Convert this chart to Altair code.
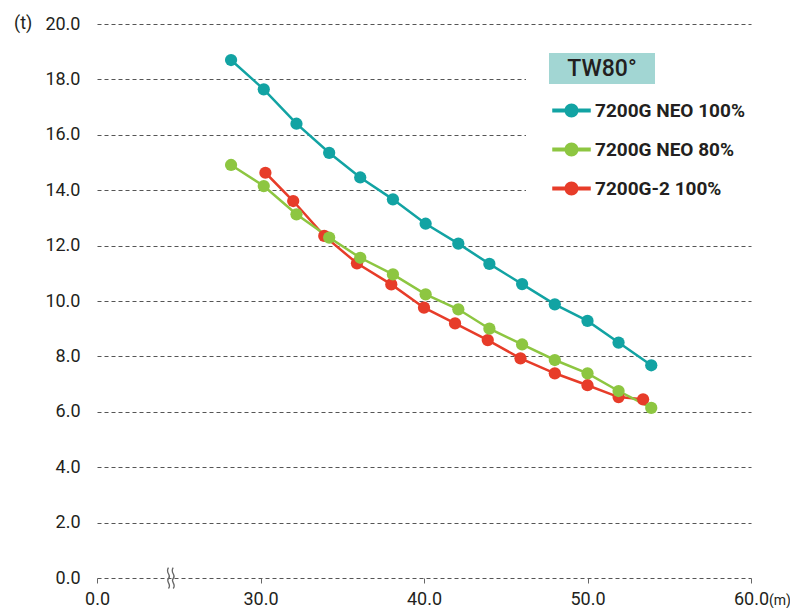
import altair as alt
import pandas as pd

series_names = ["7200G NEO 100%", "7200G NEO 80%", "7200G-2 100%"]
series_colors = ["#12a3a3", "#8dc641", "#e73c29"]

teal_x = [28.2, 30.2, 32.2, 34.2, 36.1, 38.1, 40.1, 42.1, 44.0, 46.0, 48.0, 50.0, 51.9, 53.9]
teal_y = [18.70, 17.64, 16.40, 15.35, 14.46, 13.67, 12.79, 12.07, 11.34, 10.61, 9.88, 9.28, 8.50, 7.68]

green_x = [28.2, 30.2, 32.2, 34.2, 36.1, 38.1, 40.1, 42.1, 44.0, 46.0, 48.0, 50.0, 51.9, 53.9]
green_y = [14.91, 14.15, 13.13, 12.29, 11.56, 10.96, 10.24, 9.70, 9.00, 8.43, 7.87, 7.39, 6.75, 6.14]

red_x = [30.3, 32.0, 33.9, 35.9, 38.0, 40.0, 41.9, 43.9, 45.9, 48.0, 50.0, 51.9, 53.4]
red_y = [14.63, 13.61, 12.35, 11.36, 10.60, 9.76, 9.19, 8.59, 7.93, 7.39, 6.96, 6.53, 6.45]

x_ticks = [20, 30, 40, 50, 60]
y_ticks = [0, 2, 4, 6, 8, 10, 12, 14, 16, 18, 20]

rows = []
for name, xs, ys in [(series_names[2], red_x, red_y),
                     (series_names[1], green_x, green_y),
                     (series_names[0], teal_x, teal_y)]:
    for i, (xv, yv) in enumerate(zip(xs, ys)):
        rows.append({"series": name, "x": xv, "y": yv, "i": i})
df = pd.DataFrame(rows)

W, H = 654, 554
FONT = "Roboto"
TXT = "#231f20"

xscale = alt.Scale(domain=[20, 60], nice=False)
yscale = alt.Scale(domain=[0, 20], nice=False)
cscale = alt.Scale(domain=series_names, range=series_colors)

x_axis = alt.Axis(values=x_ticks, grid=False, domain=False, ticks=True, tickSize=5,
                  tickColor="#666666", tickWidth=1, labelFontSize=18, labelFont=FONT,
                  labelColor=TXT, labelPadding=7, labelFlush=False, title=None,
                  labelExpr="datum.value == 20 ? '0.0' : format(datum.value, '.1f')")
y_axis = alt.Axis(values=y_ticks, format=".1f", grid=True, gridDash=[4, 3],
                  gridColor="#555555", gridWidth=1, domain=False, ticks=False, tickSize=0,
                  labelFontSize=18, labelFont=FONT, labelColor=TXT, labelPadding=17,
                  title=None)

legend_symbol = ("M-2.75,-0.3 H-0.97 V0.3 H-2.75 Z "
                 "M0.97,-0.3 H2.75 V0.3 H0.97 Z "
                 "M-1,0 A1,1 0 1,1 1,0 A1,1 0 1,1 -1,0 Z")

legend = alt.Legend(title=None, orient="none", legendX=465, legendY=77,
                    symbolType=legend_symbol, symbolSize=196, symbolStrokeWidth=0,
                    symbolOpacity=1, labelFontSize=19, labelFontWeight="bold",
                    labelFont=FONT, labelColor=TXT, labelOffset=14, rowPadding=19,
                    padding=0)

break_shape = ("M-0.2,-1 C-0.55,-0.5 0.15,-0.25 -0.2,0.05 C-0.5,0.35 0.15,0.6 -0.2,1 "
               "M0.25,-1 C-0.1,-0.5 0.6,-0.25 0.25,0.05 C-0.05,0.35 0.6,0.6 0.25,1")

base = alt.Chart(df)

# white panel behind the legend (hides gridlines there)
legend_bg = alt.Chart(pd.DataFrame({"a": [0]})).mark_rect(color="white").encode(
    x=alt.value(429), x2=alt.value(W + 4), y=alt.value(14), y2=alt.value(188)
)

lines = base.mark_line(strokeWidth=2.5).encode(
    x=alt.X("x:Q", scale=xscale, axis=x_axis),
    y=alt.Y("y:Q", scale=yscale, axis=y_axis),
    color=alt.Color("series:N", scale=cscale, legend=None),
    detail="series:N",
    order="i:Q",
)

points = base.mark_point(filled=True, size=150, opacity=1).encode(
    x=alt.X("x:Q", scale=xscale),
    y=alt.Y("y:Q", scale=yscale),
    color=alt.Color("series:N", scale=cscale, legend=legend),
)

# axis unit labels and break mark
unit_t = alt.Chart(pd.DataFrame({"t": ["(t)"]})).mark_text(
    align="left", baseline="middle", fontSize=18, font=FONT, color=TXT
).encode(x=alt.value(-83), y=alt.datum(20), text="t:N")

unit_m = alt.Chart(pd.DataFrame({"t": ["(m)"]})).mark_text(
    align="left", baseline="middle", fontSize=14, font=FONT, color=TXT, dx=18
).encode(x=alt.datum(60), y=alt.value(H + 23), text="t:N")

brk = alt.Chart(pd.DataFrame({"a": [0]})).mark_point(
    shape=break_shape, size=440, filled=False, stroke="#666666", strokeWidth=1.3, opacity=1
).encode(x=alt.datum(24.5), y=alt.datum(0))

# legend title box
title_box = alt.Chart(pd.DataFrame({"a": [0]})).mark_rect(color="#a2d6d3").encode(
    x=alt.value(452), x2=alt.value(558), y=alt.value(29), y2=alt.value(60)
)
title_txt = alt.Chart(pd.DataFrame({"t": ["TW80°"]})).mark_text(
    align="center", baseline="middle", fontSize=23, font=FONT, fontWeight=500, color=TXT
).encode(x=alt.value(505), y=alt.value(45), text="t:N")

chart = alt.layer(legend_bg, lines, points, unit_t, unit_m, brk, title_box, title_txt).resolve_legend(
    color="independent"
).properties(
    width=W, height=H,
    background="white",
    autosize=alt.AutoSizeParams(type="none"),
    padding={"left": 89, "top": 16, "right": 39, "bottom": 30},
).configure_view(strokeWidth=0, stroke="transparent")

chart.save("out.html", embed_options={"renderer": "svg", "actions": False})
